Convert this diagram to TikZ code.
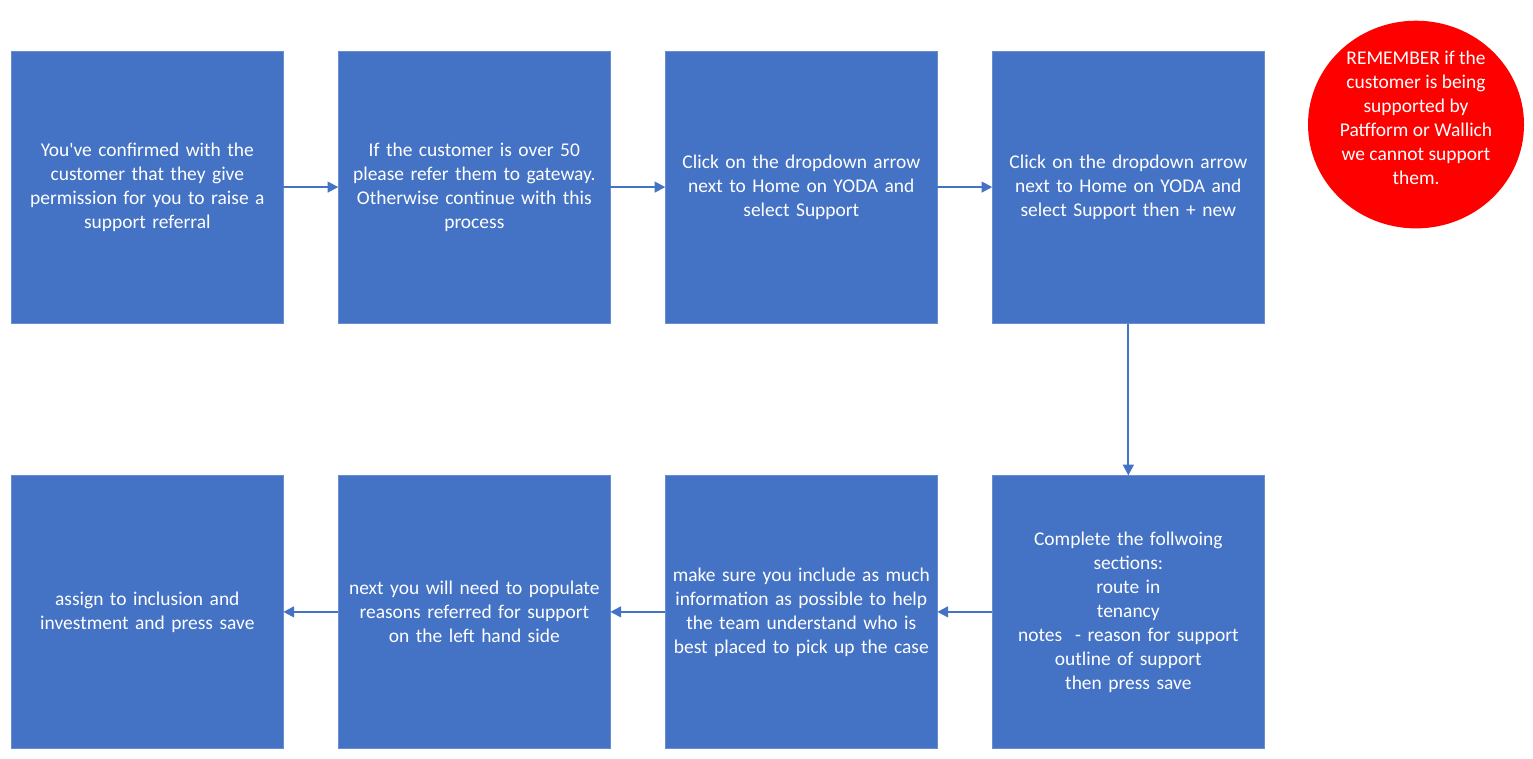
\documentclass[tikz,border=0pt]{standalone}
\usepackage{fontspec}
\setmainfont{Carlito}
\usetikzlibrary{arrows.meta,positioning,shapes.geometric}
\definecolor{boxblue}{HTML}{4472C4}
\definecolor{remred}{HTML}{FF0000}

\begin{document}
\begin{tikzpicture}[
            > = {Triangle[length=8pt,width=8pt]}, % arrow head style
            node distance = 41.25pt, % gap between boxes
            line width = 1.5pt
        ]

        \tikzset{
            stepbox/.style = {
                fill = boxblue,
                draw = boxblue!80!white,
                line width = 0.6pt,
                text = white,
                minimum width = 203.4pt,
                minimum height = 204.1pt,
                text width = 196pt,
                align = center,
                font = \fontsize{14.6}{18}\selectfont
            },
            flow/.style = {draw = boxblue, ->}
        }

        \useasboundingbox (0,0) rectangle (1149.75pt,-568.5pt);

        % top row
        \node[stepbox] (b1) at (110.5pt,-140.3pt) {You\textquotesingle ve confirmed with the\\ customer that they give\\ permission for you to raise a\\ support referral};
        \node[stepbox] (b2) [right=of b1] {If the customer is over 50\\ please refer them to gateway.\\ Otherwise continue with this\\ process};
        \node[stepbox] (b3) [right=of b2] {Click on the dropdown arrow\\ next to Home on YODA and\\ select Support};
        \node[stepbox] (b4) [right=of b3] {Click on the dropdown arrow\\ next to Home on YODA and\\ select Support then + new};

        % bottom row
        \node[stepbox] (b5) [below=113.9pt of b4] {Complete the follwoing\\ sections:\\ route in\\ tenancy\\ notes\ \ - reason for support\\ outline of support\\ then press save};
        \node[stepbox] (b6) [left=of b5] {make sure you include as much\\ information as possible to help\\ the team understand who is\\ best placed to pick up the case};
        \node[stepbox] (b7) [left=of b6] {next you will need to populate\\ reasons referred for support\\ on the left hand side};
        \node[stepbox] (b8) [left=of b7] {assign to inclusion and\\ investment and press save};

        % reminder
        \node[ellipse, fill = remred, text = white, minimum width = 162pt, minimum height = 154pt,
              inner sep = 0pt, align = center, font = \fontsize{14.6}{18}\selectfont]
            (rem) at (1062pt,-93.4pt) {REMEMBER if the\\ customer is being\\ supported by\\ Patfform or Wallich\\ we cannot support\\ them.\\[-8pt]\mbox{}};

        \draw[flow] (b1) -- (b2);
        \draw[flow] (b2) -- (b3);
        \draw[flow] (b3) -- (b4);
        \draw[flow] (b4) -- (b5);
        \draw[flow] (b5) -- (b6);
        \draw[flow] (b6) -- (b7);
        \draw[flow] (b7) -- (b8);

    \end{tikzpicture}
\end{document}
